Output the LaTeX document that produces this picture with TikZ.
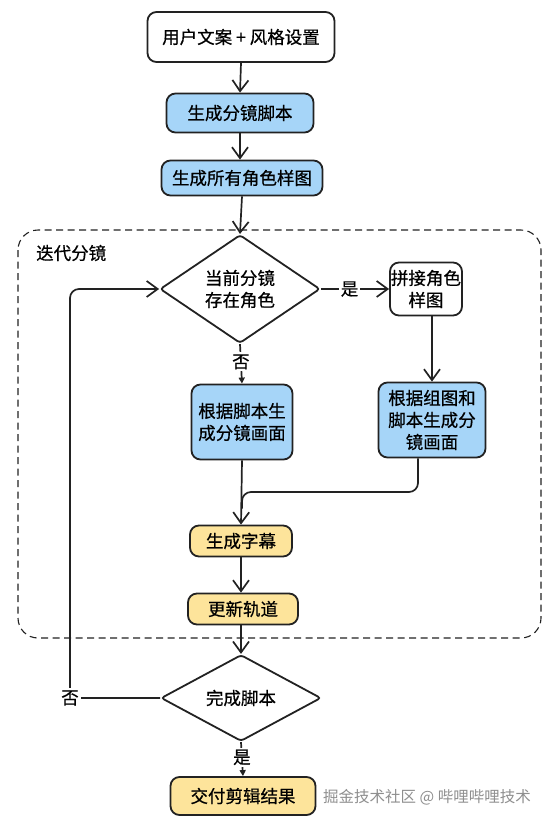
\documentclass[tikz,border=0pt]{standalone}
\usepackage{fontspec}
\setmainfont{Noto Sans CJK SC}[FakeBold=0.6]
\newfontfamily\wmfont{Noto Sans CJK SC}
\usetikzlibrary{arrows.meta,shapes.geometric,calc}
\definecolor{bluefill}{HTML}{A6D5F8}
\definecolor{yellowfill}{HTML}{FDE49B}
\definecolor{edgecol}{HTML}{222222}
\definecolor{wmgray}{HTML}{8E8E8E}
\begin{document}
\begin{tikzpicture}[x=1pt,y=-1pt,
  every node/.style={font=\fontsize{17.5}{22}\selectfont},
  boxw/.style={draw=edgecol,line width=1.8pt,rounded corners=9pt,fill=white,align=center,inner sep=0pt},
  boxb/.style={boxw,fill=bluefill},
  boxy/.style={boxw,fill=yellowfill},
  dia/.style={draw=edgecol,line width=1.8pt,diamond,rounded corners=3pt,fill=white,align=center,inner sep=0pt},
  conn/.style={draw=edgecol,line width=1.7pt},
  openarr/.style={conn,-{Straight Barb[length=11pt,width=16pt,line width=1.7pt]}},
  smallarr/.style={conn,-{Triangle[length=6pt,width=6pt]}},
  lab/.style={fill=white,inner sep=2pt}
]
\useasboundingbox (0,0) rectangle (557,825);
% dashed container
\draw[line width=1.1pt,dash pattern=on 7pt off 4.5pt,rounded corners=20pt,draw=edgecol] (18,230) rectangle (541,638);
\node[anchor=west,inner sep=0pt] (iter) at (36,253) {迭代分镜};

\node[boxw,minimum width=187pt,minimum height=50pt] (b1) at (241,37) {用户文案 + 风格设置};
\node[boxb,minimum width=147pt,minimum height=39pt] (b2) at (240,113) {生成分镜脚本};
\node[boxb,minimum width=161pt,minimum height=35pt] (b3) at (242,178) {生成所有角色样图};
\node[dia,minimum width=160pt,minimum height=103pt] (d1) at (240,289) {当前分镜\\存在角色};
\node[boxw,minimum width=72pt,minimum height=53pt] (b4) at (426,289) {拼接角色\\样图};
\node[boxb,minimum width=107pt,minimum height=75pt] (b5r) at (432,420) {根据组图和\\脚本生成分\\镜画面};
\node[boxb,minimum width=101pt,minimum height=75pt] (b5) at (242,422) {根据脚本生\\成分镜画面};
\node[boxy,minimum width=102pt,minimum height=31pt] (b6) at (241,541) {生成字幕};
\node[boxy,minimum width=110pt,minimum height=31pt] (b7) at (243,609) {更新轨道};
\node[dia,minimum width=160pt,minimum height=67pt] (d2) at (241,698) {完成脚本};
\node[boxy,minimum width=145pt,minimum height=38pt] (b8) at (243,796) {交付剪辑结果};
\node[anchor=west,inner sep=0pt,text=wmgray,font=\wmfont\fontsize{15.5}{18}\selectfont] (wm) at (323,797) {掘金技术社区 @ 哔哩哔哩技术};

% connectors
\draw[openarr] (b1.south) -- (b2.north);
\draw[openarr] (b2.south) -- ($(b3.north)+(-2,0)$);
\draw[openarr] (b3.south) -- (d1.north);
\draw[openarr] (d1.east) -- (b4.west) node[lab,pos=0.42] (yes1) {是};
\draw[openarr] ($(b4.south)+(6,0)$) -- (b5r.north);
\draw[smallarr] (d1.south) -- (b5.north) node[lab,pos=0.45] (no1) {否};
\draw[openarr] (b5.south) -- (b6.north);
\coordinate (mj) at (242,492);
\draw[conn,rounded corners=9pt] ($(b5r.south)+(-14,0)$) |- (mj) -- ($(b6.north)+(1,-16)$);
\draw[openarr] (b6.south) -- ($(b7.north)+(-2,0)$);
\draw[openarr] ($(b7.south)+(-2,0)$) -- (d2.north);
\draw[smallarr] (d2.south) -- (b8.north) node[lab,pos=0.45] (yes2) {是};
\coordinate (lp) at (70,698);
\draw[openarr,rounded corners=9pt] (d2.west) -- (lp) |- (d1.west);
\node[lab] (no2) at (lp) {否};
\end{tikzpicture}
\end{document}
